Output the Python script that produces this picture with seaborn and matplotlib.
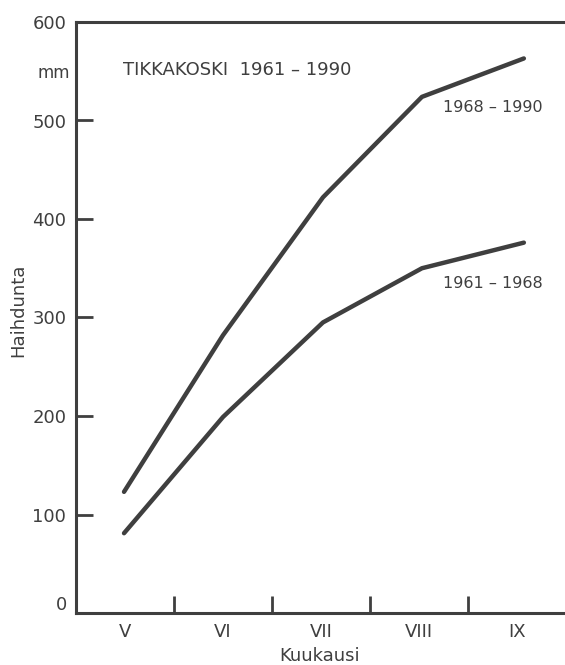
import matplotlib
matplotlib.use("Agg")
import matplotlib.pyplot as plt
import seaborn as sns
import pandas as pd

# ---- data ----
month_labels = ["V", "VI", "VII", "VIII", "IX"]
label_pos = [0.5, 1.5, 2.5, 3.5, 4.5]
boundary_ticks = [1, 2, 3, 4]
y_ticks = [100, 200, 300, 400, 500]
y_label_vals = [100, 200, 300, 400, 500, 600]
x_pos = [0.49, 1.50, 2.52, 3.53, 4.57]
evap_1968_1990 = [123, 282, 422, 524, 563]
evap_1961_1968 = [81, 199, 295, 350, 376]
series_names = ["1968 – 1990", "1961 – 1968"]

df = pd.DataFrame({
    "x": x_pos * 2,
    "value": evap_1968_1990 + evap_1961_1968,
    "series": [series_names[0]] * len(x_pos) + [series_names[1]] * len(x_pos),
})

sns.set_theme(style="white")
plt.rcParams["font.family"] = ["DejaVu Sans"]
ink = "#3f3f3f"

W, H = 565, 665
fig = plt.figure(figsize=(W / 100, H / 100), dpi=100)
left, right, top, bottom = 76, 565, 22, 613
ax = fig.add_axes([left / W, (H - bottom) / H, (right - left) / W, (bottom - top) / H])

sns.lineplot(data=df, x="x", y="value", hue="series",
             palette={series_names[0]: ink, series_names[1]: ink},
             linewidth=3.2, legend=False, ax=ax, solid_capstyle="round",
             solid_joinstyle="round")

ax.set_xlim(0, (right - left) / 98.0)
ax.set_ylim(0, 600)

for s in ["left", "bottom", "top"]:
    ax.spines[s].set_color(ink)
    ax.spines[s].set_linewidth(2.2)
ax.spines["right"].set_visible(False)

ax.xaxis.remove_overlapping_locs = False
ax.yaxis.remove_overlapping_locs = False

# x axis: boundary ticks pointing inward, labels at month centres
ax.set_xticks(boundary_ticks)
ax.set_xticklabels([])
ax.set_xticks(label_pos, minor=True)
ax.set_xticklabels(month_labels, minor=True, fontsize=13, color=ink)
ax.tick_params(axis="x", which="major", bottom=True, direction="in", length=12, width=2.0, color=ink)
ax.tick_params(axis="x", which="minor", bottom=True, length=0, pad=7)

# y axis: inward ticks at 100..500, labels 100..600
ax.set_yticks(y_ticks)
ax.set_yticklabels([])
ax.set_yticks(y_label_vals, minor=True)
ax.set_yticklabels([str(v) for v in y_label_vals], minor=True, fontsize=13, color=ink)
ax.tick_params(axis="y", which="major", left=True, direction="in", length=12, width=2.0, color=ink)
ax.tick_params(axis="y", which="minor", left=True, length=0, pad=7)
ax.text(-0.09, 8, "0", fontsize=13, color=ink, ha="right", va="center", clip_on=False)

ax.set_xlabel("Kuukausi", fontsize=13, color=ink)
ax.set_ylabel("Haihdunta", fontsize=13, color=ink)
ax.xaxis.set_label_coords(0.499, -0.058)
ax.yaxis.set_label_coords(-0.10, (613 - 310) / (bottom - top))

ax.text(-0.06, 548, "mm", fontsize=12, color=ink, ha="right", va="center", clip_on=False)
ax.text(0.48, 551, "TIKKAKOSKI  1961 – 1990", fontsize=13, color=ink, ha="left", va="center")
ax.text(3.74, 513, series_names[0], fontsize=11.5, color=ink, ha="left", va="center")
ax.text(3.74, 335, series_names[1], fontsize=11.5, color=ink, ha="left", va="center")

fig.savefig("out.png", dpi=100, facecolor="white")
